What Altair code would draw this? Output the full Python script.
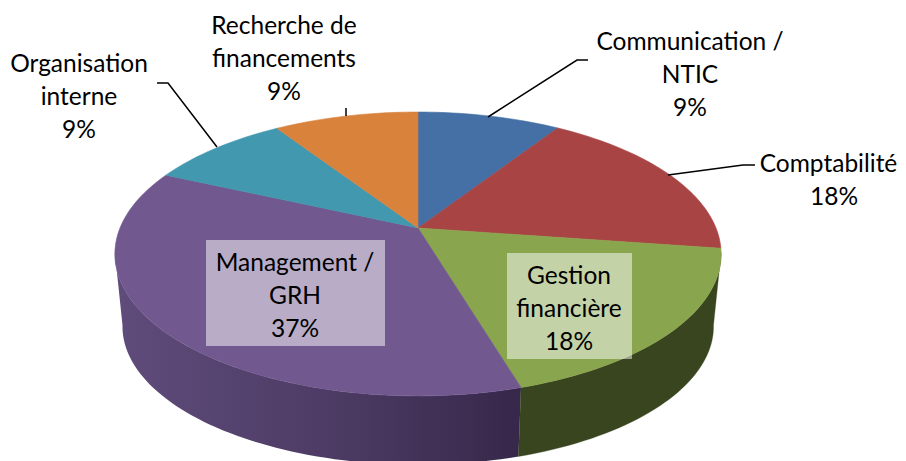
import math
import altair as alt

# ---- data
categories = ["Communication /\nNTIC", "Comptabilité", "Gestion\nfinancière",
              "Management /\nGRH", "Organisation\ninterne", "Recherche de\nfinancements"]
shares = [9.1, 18.2, 18.1, 36.4, 9.0, 9.2]
percent_labels = ["9%", "18%", "18%", "37%", "9%", "9%"]
colors = ["#4570A5", "#A94444", "#89A54E", "#71588F", "#4198AF", "#D9823C"]

# ---- layout (page pixels, minus 8 px page margin)
M = 8
CX, CY, RX, RY, K = 418, 228, 298, 137.2, 0.183
LOW_CY, LOW_S = 301, 0.975
FONT, FS, LH = "Lato", 24.5, 33
label_pos = [(690, 42.5), (834, 164.5), (569, 276.5), (295, 263.5), (79, 64.5), (284, 26.5)]
first_line_dx = {1: -5.5}  # the longest label has to stay inside the drawing's right edge
boxes = {2: (507, 253, 632, 359), 3: (206, 240, 385, 346)}
leaders = [
    [(588, 60), (577, 60), (488, 117)],
    [(755, 165), (743, 165), (668, 175)],
    [(217, 147), (168, 83), (157, 83)],
    [(346, 116), (346, 108)],
]


def rim(theta_deg, cy=CY, s=1.0):
    t = math.radians(theta_deg)
    u, v = math.sin(t), math.cos(t)
    w = 1 + K * v
    return [CX + s * RX * u / w - M, cy - s * RY * v / w - M]


def arc(a, b, cy=CY, s=1.0, step=1.5):
    n = max(2, int(abs(b - a) / step) + 1)
    return [rim(a + (b - a) * i / (n - 1), cy, s) for i in range(n)]


def polygon(points):
    pts = points + [points[0]]
    return {"type": "Feature", "properties": {},
            "geometry": {"type": "Polygon", "coordinates": [pts]}}


def polyline(points):
    return {"type": "Feature", "properties": {},
            "geometry": {"type": "LineString",
                         "coordinates": [[x - M, y - M] for x, y in points]}}


proj = alt.Projection(type="identity", scale=1, translate=[0, 0])


def geo(feature, **mark):
    return alt.Chart(alt.Data(values=[feature])).mark_geoshape(**mark).project(**proj.to_dict())


total = sum(shares)
edges = [0.0]
for s in shares:
    edges.append(edges[-1] + s / total * 360)

LEFT, RIGHT = 260, 100
layers = []

# side walls: purple slice and green slice
wall_purple = arc(edges[3], LEFT) + arc(LEFT, edges[3], LOW_CY, LOW_S)
wall_green = arc(RIGHT, edges[3]) + arc(edges[3], RIGHT, LOW_CY, LOW_S)
grad = alt.LinearGradient(
    gradient="linear", x1=1, x2=0, y1=0, y2=0,
    stops=[alt.GradientStop(offset=0, color="#36284A"),
           alt.GradientStop(offset=0.5, color="#4E3C66"),
           alt.GradientStop(offset=1, color="#5F4C7B")])
layers.append(geo(polygon(wall_purple), fill=grad, stroke=None, strokeWidth=0))
layers.append(geo(polygon(wall_green), fill="#38451F", stroke="#38451F", strokeWidth=0.3))

# top face
for i, col in enumerate(colors):
    pts = [[CX - M, CY - M]] + arc(edges[i], edges[i + 1])
    layers.append(geo(polygon(pts), fill=col, stroke=col, strokeWidth=0.6))

# label boxes
for i, (x0, y0, x1, y1) in boxes.items():
    layers.append(
        alt.Chart(alt.Data(values=[{"x": x0 - M, "x2": x1 - M, "y": y0 - M, "y2": y1 - M}]))
        .mark_rect(color="white", opacity=0.5)
        .encode(x=alt.X("x:Q", scale=None, axis=None), x2="x2:Q",
                y=alt.Y("y:Q", scale=None, axis=None), y2="y2:Q"))

# leader lines
for pts in leaders:
    layers.append(geo(polyline(pts), filled=False, fill="transparent", stroke="black", strokeWidth=1.5))

# text
rows = []
for idx, (cat, pct, (x, y)) in enumerate(zip(categories, percent_labels, label_pos)):
    for j, line in enumerate(cat.split("\n") + [pct]):
        dx = first_line_dx.get(idx, 0) if j == 0 else 0
        rows.append({"t": line, "x": x + dx - M, "y": y + j * LH - M})
layers.append(
    alt.Chart(alt.Data(values=rows))
    .mark_text(font=FONT, fontSize=FS, color="black", align="center", baseline="middle")
    .encode(x=alt.X("x:Q", scale=None, axis=None), y=alt.Y("y:Q", scale=None, axis=None), text="t:N"))

chart = (
    alt.layer(*layers)
    .properties(width=890, height=453, padding=0, autosize=alt.AutoSizeParams(type="none"))
    .configure_view(stroke=None)
)
chart.save("out.html", embed_options={"renderer": "svg", "actions": False})
